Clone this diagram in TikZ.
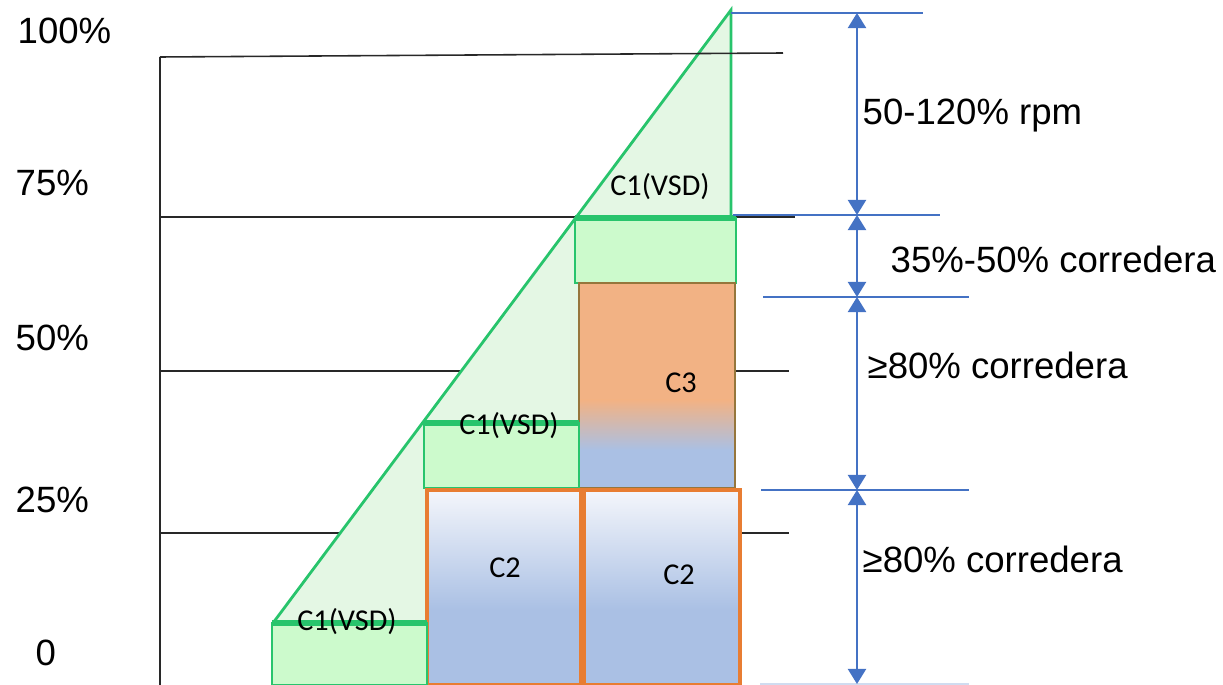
\documentclass[tikz,border=0pt]{standalone}
\usepackage{fontspec}
\setmainfont{Liberation Sans}
\newfontfamily\calibfont{Carlito}
\usepackage{tikz}
\usetikzlibrary{arrows.meta}

\definecolor{vsdline}{RGB}{40,196,108}
\definecolor{vsdfill}{RGB}{204,250,204}
\definecolor{rampfill}{RGB}{228,247,228}
\definecolor{cedge}{RGB}{232,125,50}
\definecolor{c3edge}{RGB}{150,118,60}
\definecolor{c3fill}{RGB}{242,178,132}
\definecolor{c2blue}{RGB}{170,192,228}
\definecolor{c2top}{RGB}{244,246,251}
\definecolor{dimblue}{RGB}{68,114,196}
\definecolor{gridgray}{RGB}{40,40,40}

\begin{document}
\begin{tikzpicture}[x=0.01cm, y=-0.01cm,
  gridline/.style={gridgray, line width=0.45pt},
  vsdbox/.style={draw=vsdline, fill=vsdfill, line width=0.8pt},
  vsdtop/.style={vsdline, line width=1.5pt},
  compbox/.style={draw=cedge, line width=1pt},
  dimline/.style={dimblue, line width=0.45pt},
  dimarrow/.style={dimblue, line width=0.6pt, {Triangle[width=1.8mm,length=1.5mm]}-{Triangle[width=1.8mm,length=1.5mm]}},
  pct/.style={font=\fontsize{10.4}{12}\selectfont, inner sep=0pt, anchor=base west},
  unitlabel/.style={font=\calibfont\fontsize{8.6}{10}\selectfont, inner sep=0pt}]
  \useasboundingbox (0,0) rectangle (1223,685);

  \node[pct] (p100) at (17,44) {100\%};
  \node[pct] (p75) at (15,196) {75\%};
  \node[pct] (p50) at (15,351) {50\%};
  \node[pct] (p25) at (15,513) {25\%};
  \node[pct] (p0) at (35,666) {0};

  \draw[gridline] (160,57) -- (160,685);
  \draw[gridline] (160,217) -- (795,217);
  \draw[gridline] (160,371) -- (789,371);
  \draw[gridline] (160,533) -- (789,533);

  \fill[rampfill] (273,623) -- (731,10) -- (731,623) -- cycle;
  \draw[vsdline, line width=0.8pt] (273,623) -- (731,10) -- (731,218);
  \draw[gridline] (160,57) -- (783,53);

  \draw[vsdbox] (575,218) rectangle (736,283);
  \fill[c3fill] (579,283) rectangle (735,400);
  \shade[top color=c3fill, bottom color=c2blue] (579,400) rectangle (735,450);
  \fill[c2blue] (579,450) rectangle (735,488);
  \draw[c3edge, line width=0.8pt] (579,283) rectangle (735,488);
  \draw[vsdbox] (424,423) rectangle (579,488);

  \shade[top color=c2top, bottom color=c2blue] (427,490) rectangle (581,610);
  \fill[c2blue] (427,610) rectangle (581,685);
  \draw[compbox] (427,490) rectangle (581,685);
  \shade[top color=c2top, bottom color=c2blue] (584,490) rectangle (740,610);
  \fill[c2blue] (584,610) rectangle (740,685);
  \draw[compbox] (584,490) rectangle (740,685);

  \draw[vsdbox] (272,623) rectangle (427,685);
  \draw[vsdtop] (272,623) -- (427,623);
  \draw[vsdtop] (424,423) -- (579,423);
  \draw[vsdtop] (575,218) -- (736,218);

  \node[unitlabel] (vsdhi) at (660,187) {C1(VSD)};
  \node[unitlabel] (vsdmid) at (509,426) {C1(VSD)};
  \node[unitlabel] (vsdlo) at (347,622) {C1(VSD)};
  \node[unitlabel] (c3) at (681,383) {C3};
  \node[unitlabel] (c2a) at (505,568) {C2};
  \node[unitlabel] (c2b) at (679,575) {C2};

  \draw[dimline] (731,13) -- (923,13);
  \draw[dimline] (733,215) -- (940,215);
  \draw[dimline] (763,297) -- (969,297);
  \draw[dimline] (761,490) -- (969,490);
  \draw[dimline, dimblue!25] (760,684) -- (969,684);

  \coordinate (lv100) at (857,13);
  \coordinate (lv75) at (857,215);
  \coordinate (lv60) at (857,297);
  \coordinate (lv30) at (857,490);
  \coordinate (lv0) at (857,684);
  \draw[dimarrow] (lv100) -- (lv75);
  \draw[dimarrow] (lv75) -- (lv60);
  \draw[dimarrow] (lv60) -- (lv30);
  \draw[dimarrow] (lv30) -- (lv0);

  \node[pct] (rpm) at (862,125) {50-120\% rpm};
  \node[pct] (slide1) at (890,273) {35\%-50\% corredera};
  \node[pct] (slide2) at (867,379) {≥80\% corredera};
  \node[pct] (slide3) at (862,573) {≥80\% corredera};
\end{tikzpicture}
\end{document}
